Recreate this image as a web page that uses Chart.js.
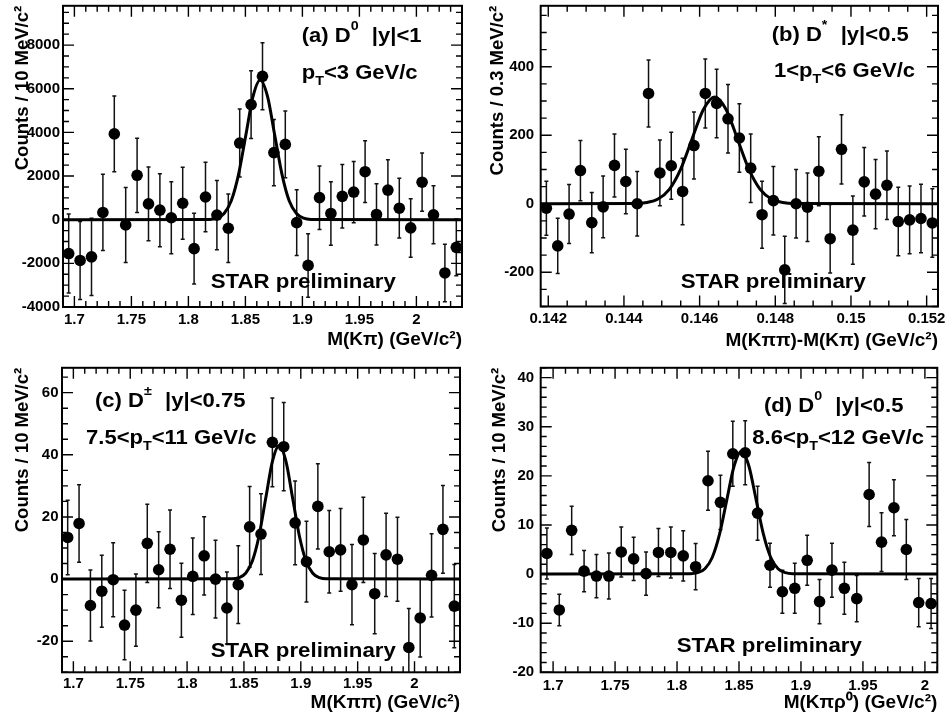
<!DOCTYPE html>
<html><head><meta charset="utf-8">
<script src="https://cdn.jsdelivr.net/npm/chart.js@4.4.1/dist/chart.umd.min.js"></script>
<style>
html,body{margin:0;padding:0;background:#fff;}
#wrap{position:relative;width:948px;height:725px;overflow:hidden;}
canvas{position:absolute;}
</style></head><body>
<div id="wrap">
<canvas id="ca" style="left:0;top:0" width="474" height="362"></canvas>
<canvas id="cb" style="left:474px;top:0" width="474" height="362"></canvas>
<canvas id="cc" style="left:0;top:362px" width="474" height="363"></canvas>
<canvas id="cd" style="left:474px;top:362px" width="474" height="363"></canvas>
</div>
<script>
// ---------- Panel (a): D0 -> K pi ----------
const massA = [1.695,1.705,1.715,1.725,1.735,1.745,1.755,1.765,1.775,1.785,1.795,1.805,1.815,1.825,1.835,1.845,1.855,1.865,1.875,1.885,1.895,1.905,1.915,1.925,1.935,1.945,1.955,1.965,1.975,1.985,1.995,2.005,2.015,2.025,2.035];
const countsA = [-1550,-1867,-1703,331,3932,-241,2034,723,437,90,753,-1326,1040,211,-392,3511,5273,6570,3074,3450,-136,-2094,1009,286,1070,1266,2200,241,1356,527,-377,1718,226,-2441,-1266];
const errA = [1808,1785,1770,1748,1733,1718,1703,1688,1673,1650,1650,1620,1590,1590,1567,1560,1552,1537,1522,1530,1507,1454,1454,1454,1454,1401,1416,1401,1386,1371,1341,1333,1326,1318,1303];
const fitMassA = [1.69,1.8185,1.8249,1.8313,1.8376,1.8440,1.8504,1.8567,1.863,1.8694,1.8757,1.8821,1.8884,1.8948,1.9011,1.9075,2.04];
const fitCountsA = [0,14,71,281,866,2078,3882,5648,6400,5648,3882,2078,866,281,71,14,0];
const xTicksA = [1.7,1.75,1.8,1.85,1.9,1.95,2];
const yTicksA = [-4000,-2000,0,2000,4000,6000,8000];

// ---------- Panel (b): D* ----------
const massB = [0.14195,0.14225,0.14255,0.14285,0.14315,0.14345,0.14375,0.14405,0.14435,0.14465,0.14495,0.14525,0.14555,0.14585,0.14615,0.14645,0.14675,0.14705,0.14735,0.14765,0.14795,0.14825,0.14855,0.14885,0.14915,0.14945,0.14975,0.15005,0.15035,0.15065,0.15095,0.15125,0.15155,0.15185,0.15215];
const countsB = [-13,-123,-30,97,-55,-9,112,65,0,322,90,111,36,170,322,293,248,192,104,-32,9,-193,0,-10,95,-102,159,-77,64,28,54,-52,-47,-43,-56];
const errB = [79,81,86,88,88,90,92,94,94,98,96,98,97,98,101,100,100,100,100,98,100,98,100,100,101,100,101,100,100,101,100,100,99,100,100];
const fitMassB = [0.1418,0.1443,0.1446,0.1449,0.1452,0.1455,0.1458,0.1461,0.1464,0.1467,0.1470,0.1473,0.1476,0.1479,0.1482,0.1485,0.1523];
const fitCountsB = [0,0.7,3.5,13.7,42.2,101.3,189.2,275.3,312,275.3,189.2,101.3,42.2,13.7,3.5,0.7,0];
const xTicksB = [0.142,0.144,0.146,0.148,0.15,0.152];
const yTicksB = [-200,0,200,400];

// ---------- Panel (c): D+- ----------
const massC = [1.695,1.705,1.715,1.725,1.735,1.745,1.755,1.765,1.775,1.785,1.795,1.805,1.815,1.825,1.835,1.845,1.855,1.865,1.875,1.885,1.895,1.905,1.915,1.925,1.935,1.945,1.955,1.965,1.975,1.985,1.995,2.005,2.015,2.025,2.035];
const countsC = [13.4,17.9,-8.5,-3.9,-0.2,-14.8,-10.0,11.5,3.0,9.6,-6.8,0.9,7.5,0,-9.3,-1.8,16.8,14.5,44.0,42.6,18.1,5.6,23.4,8.8,9.4,-1.8,12.6,-4.7,7.8,6.4,-22.0,-12.5,1.2,16.0,-8.7];
const errC = [12.0,12.5,11.4,11.6,11.9,11.2,11.6,12.6,12.2,12.6,11.9,12.3,12.6,12.5,11.6,12.5,13.0,13.0,14.3,14.2,13.5,13.0,13.7,13.3,13.3,12.9,13.7,12.9,13.4,13.5,12.5,12.6,13.4,14.1,13.4];
const fitMassC = [1.69,1.8397,1.8456,1.8515,1.8574,1.8633,1.8692,1.8751,1.881,1.8869,1.8928,1.8987,1.9046,1.9105,1.9164,1.9223,2.04];
const fitCountsC = [0,0.09,0.48,1.89,5.82,13.96,26.08,37.95,43,37.95,26.08,13.96,5.82,1.89,0.48,0.09,0];
const xTicksC = [1.7,1.75,1.8,1.85,1.9,1.95,2];
const yTicksC = [-20,0,20,40,60];

// ---------- Panel (d): D0 -> K pi rho0 ----------
const massD = [1.695,1.705,1.715,1.725,1.735,1.745,1.755,1.765,1.775,1.785,1.795,1.805,1.815,1.825,1.835,1.845,1.855,1.865,1.875,1.885,1.895,1.905,1.915,1.925,1.935,1.945,1.955,1.965,1.975,1.985,1.995,2.005];
const countsD = [4.2,-7.3,8.9,0.6,-0.4,-0.4,4.5,3.1,0.1,4.4,4.4,3.7,1.5,19.0,14.6,24.5,24.7,12.4,1.8,-3.6,-2.9,2.8,-5.6,0.8,-2.9,-5.0,16.2,6.5,13.5,5.0,-5.8,-6.0];
const errD = [5.2,3.2,4.9,4.2,4.4,4.7,5.1,4.4,4.4,4.9,5.2,5.1,4.7,6.0,5.5,6.6,6.5,5.5,4.5,4.4,5.1,5.1,4.5,5.5,5.3,4.7,6.5,6.0,5.7,6.1,4.9,5.1];
const fitMassD = [1.69,1.8107,1.8166,1.8225,1.8284,1.8343,1.8402,1.8461,1.852,1.8579,1.8638,1.8697,1.8756,1.8815,1.8874,1.8933,2.01];
const fitCountsD = [0,0.06,0.28,1.1,3.38,8.12,15.16,22.06,25,22.06,15.16,8.12,3.38,1.1,0.28,0.06,0];
const xTicksD = [1.7,1.75,1.8,1.85,1.9,1.95,2];
const yTicksD = [-20,-10,0,10,20,30,40];

const FONT = "'Liberation Sans', Arial, Helvetica, sans-serif";
Chart.defaults.font.family = FONT;
Chart.defaults.color = '#000';

const panels = [
  {id:'ca', W:474, H:362, area:{l:63,r:462,t:1,b:307},
   x:{min:1.69,max:2.04,ticks:xTicksA,minor:0.01}, y:{min:-4000,max:9800,ticks:yTicksA,minor:500},
   xTitle:'M(K\u03c0) (GeV/c\u00b2)', yTitle:'Counts / 10 MeV/c\u00b2',
   mass:massA, counts:countsA, err:errA, fm:fitMassA, fc:fitCountsA,
   yLabPad:3, xLabPad:4, yTitlePad:12, xTitlePad:11,
   lines:[
     {x:301.7,y:41.7,segs:[['(a) D','n'],['0','sup'],['  |y|<1','n']]},
     {x:301.7,y:79,segs:[['p','n'],['T','sub'],['<3 GeV/c','n']]}],
   star:{x:210.7,y:288.3}},
  {id:'cb', W:474, H:362, area:{l:66.7,r:464,t:0.7,b:306.5},
   x:{min:0.1418,max:0.1523,ticks:xTicksB,minor:0.0005}, y:{min:-300,max:578,ticks:yTicksB,minor:50},
   xTitle:'M(K\u03c0\u03c0)-M(K\u03c0) (GeV/c\u00b2)', yTitle:'Counts / 0.3 MeV/c\u00b2',
   mass:massB, counts:countsB, err:errB, fm:fitMassB, fc:fitCountsB,
   yLabPad:6.5, xLabPad:3, yTitlePad:13, xTitlePad:10,
   lines:[
     {x:297.7,y:40.7,segs:[['(b) D','n'],['*','sup'],['  |y|<0.5','n']]},
     {x:300,y:76.7,segs:[['1<p','n'],['T','sub'],['<6 GeV/c','n']]}],
   star:{x:206.7,y:288.3}},
  {id:'cc', W:474, H:363, area:{l:62,r:460,t:5.3,b:310.3},
   x:{min:1.69,max:2.04,ticks:xTicksC,minor:0.01}, y:{min:-30,max:68,ticks:yTicksC,minor:5},
   xTitle:'M(K\u03c0\u03c0) (GeV/c\u00b2)', yTitle:'Counts / 10 MeV/c\u00b2',
   mass:massC, counts:countsC, err:errC, fm:fitMassC, fc:fitCountsC,
   yLabPad:3.5, xLabPad:3, yTitlePad:11.5, xTitlePad:11,
   lines:[
     {x:95,y:45,segs:[['(c) D','n'],['\u00b1','sup'],['  |y|<0.75','n']]},
     {x:86,y:81.7,segs:[['7.5<p','n'],['T','sub'],['<11 GeV/c','n']]}],
   star:{x:210.7,y:295}},
  {id:'cd', W:474, H:363, area:{l:66.7,r:463.3,t:5.3,b:310.3},
   x:{min:1.69,max:2.01,ticks:xTicksD,minor:0.01}, y:{min:-20,max:42,ticks:yTicksD,minor:2},
   xTitle:'M(K\u03c0\u03c1\u2070) (GeV/c\u00b2)', yTitle:'Counts / 10 MeV/c\u00b2',
   mass:massD, counts:countsD, err:errD, fm:fitMassD, fc:fitCountsD,
   yLabPad:6.5, xLabPad:5, yTitlePad:15, xTitlePad:11,
   lines:[
     {x:290,y:50,segs:[['(d) D','n'],['0','sup'],['  |y|<0.5','n']]},
     {x:278.3,y:81.7,segs:[['8.6<p','n'],['T','sub'],['<12 GeV/c','n']]}],
   star:{x:202.7,y:290}}
];

function minorValues(majors, step, min, max) {
  const out = [], base = majors[0];
  const kMin = Math.ceil((min - base) / step - 1e-6), kMax = Math.floor((max - base) / step + 1e-6);
  for (let k = kMin; k <= kMax; k++) out.push(base + k * step);
  return out;
}

function drawRich(ctx, line, size, stretch) {
  let cx = line.x;
  ctx.fillStyle = '#000';
  ctx.textBaseline = 'alphabetic';
  ctx.textAlign = 'left';
  for (const [t, k] of line.segs) {
    const fs = k === 'n' ? size : size * 0.65;
    const dy = k === 'sup' ? -size * 0.6 : (k === 'sub' ? size * 0.3 : 0);
    ctx.font = 'bold ' + fs + 'px ' + FONT;
    ctx.save();
    ctx.translate(cx, line.y + dy);
    ctx.scale(stretch, 1);
    ctx.fillText(t, 0, 0);
    ctx.restore();
    cx += ctx.measureText(t).width * stretch + (k === 'sup' ? 1 : 0);
  }
}

function build(P) {
  const rootPlugin = {
    id: 'rootFrame',
    beforeDatasetsDraw(chart) {
      const {ctx, chartArea: a, scales: {x, y}} = chart;
      ctx.save();
      ctx.beginPath();
      ctx.rect(a.left, a.top, a.right - a.left, a.bottom - a.top);
      ctx.clip();
      ctx.strokeStyle = '#111';
      ctx.lineWidth = 1.5;
      ctx.beginPath();
      P.mass.forEach((m, i) => {
        const px = x.getPixelForValue(m);
        const y1 = y.getPixelForValue(P.counts[i] - P.err[i]);
        const y2 = y.getPixelForValue(P.counts[i] + P.err[i]);
        ctx.moveTo(px, y1); ctx.lineTo(px, y2);
        ctx.moveTo(px - 2, y1); ctx.lineTo(px + 2, y1);
        ctx.moveTo(px - 2, y2); ctx.lineTo(px + 2, y2);
      });
      ctx.stroke();
      ctx.restore();
    },
    afterDatasetsDraw(chart) {
      const {ctx, chartArea: a, scales: {x, y}} = chart;
      ctx.save();
      ctx.strokeStyle = '#000';
      ctx.lineWidth = 1.4;
      ctx.beginPath();
      const xt = (v, len) => {
        const p = x.getPixelForValue(v);
        ctx.moveTo(p, a.bottom); ctx.lineTo(p, a.bottom - len);
        ctx.moveTo(p, a.top); ctx.lineTo(p, a.top + len);
      };
      const yt = (v, len) => {
        const p = y.getPixelForValue(v);
        ctx.moveTo(a.left, p); ctx.lineTo(a.left + len, p);
        ctx.moveTo(a.right, p); ctx.lineTo(a.right - len, p);
      };
      minorValues(P.x.ticks, P.x.minor, P.x.min, P.x.max).forEach(v => xt(v, 6));
      P.x.ticks.forEach(v => xt(v, 11));
      minorValues(P.y.ticks, P.y.minor, P.y.min, P.y.max).forEach(v => yt(v, 6));
      P.y.ticks.forEach(v => yt(v, 11));
      ctx.stroke();
      ctx.lineWidth = 2;
      ctx.strokeRect(a.left, a.top, a.right - a.left, a.bottom - a.top);
      ctx.restore();
    },
    afterDraw(chart) {
      const ctx = chart.ctx;
      ctx.save();
      P.lines.forEach(l => drawRich(ctx, l, 19.5, 1.13));
      drawRich(ctx, {x: P.star.x, y: P.star.y, segs: [['STAR preliminary', 'n']]}, 21, 1.06);
      ctx.restore();
    }
  };

  const tickFont = {family: FONT, size: 15, weight: 'bold'};
  const noPad = s => { s.paddingTop = 0; s.paddingBottom = 0; s.paddingLeft = 0; s.paddingRight = 0; };
  new Chart(document.getElementById(P.id), {
    type: 'scatter',
    data: {
      datasets: [
        {label: 'data', data: P.mass.map((m, i) => ({x: m, y: P.counts[i]})),
         pointRadius: 5.8, pointHoverRadius: 5.8, backgroundColor: '#000', borderWidth: 0, pointStyle: 'circle'},
        {label: 'fit', data: P.fm.map((m, i) => ({x: m, y: P.fc[i]})),
         showLine: true, pointRadius: 0, borderColor: '#000', borderWidth: 3, fill: false,
         cubicInterpolationMode: 'monotone'}
      ]
    },
    options: {
      responsive: false,
      animation: false,
      events: [],
      layout: {padding: {left: 0, top: P.area.t, right: P.W - P.area.r, bottom: 0}},
      plugins: {legend: {display: false}, tooltip: {enabled: false}},
      scales: {
        x: {
          type: 'linear', min: P.x.min, max: P.x.max,
          afterFit: s => { s.height = P.H - P.area.b; noPad(s); },
          afterBuildTicks: s => { s.ticks = P.x.ticks.map(v => ({value: v})); },
          ticks: {autoSkip: false, maxRotation: 0, minRotation: 0, padding: P.xLabPad, color: '#000', font: tickFont,
                  callback: v => String(v)},
          grid: {display: false, drawTicks: false},
          border: {display: false},
          title: {display: true, text: P.xTitle, align: 'end', color: '#000',
                  font: {family: FONT, size: 19, weight: 'bold'}, padding: {top: 0, bottom: P.xTitlePad}}
        },
        y: {
          type: 'linear', min: P.y.min, max: P.y.max,
          afterFit: s => { s.width = P.area.l; noPad(s); },
          afterBuildTicks: s => { s.ticks = P.y.ticks.map(v => ({value: v})); },
          ticks: {autoSkip: false, padding: P.yLabPad, color: '#000', font: tickFont,
                  callback: v => String(v)},
          grid: {display: false, drawTicks: false},
          border: {display: false},
          title: {display: true, text: P.yTitle, align: 'end', color: '#000',
                  font: {family: FONT, size: 18.5, weight: 'bold'}, padding: {top: P.yTitlePad, bottom: 0}}
        }
      }
    },
    plugins: [rootPlugin]
  });
}

panels.forEach(build);
</script>
</body></html>
